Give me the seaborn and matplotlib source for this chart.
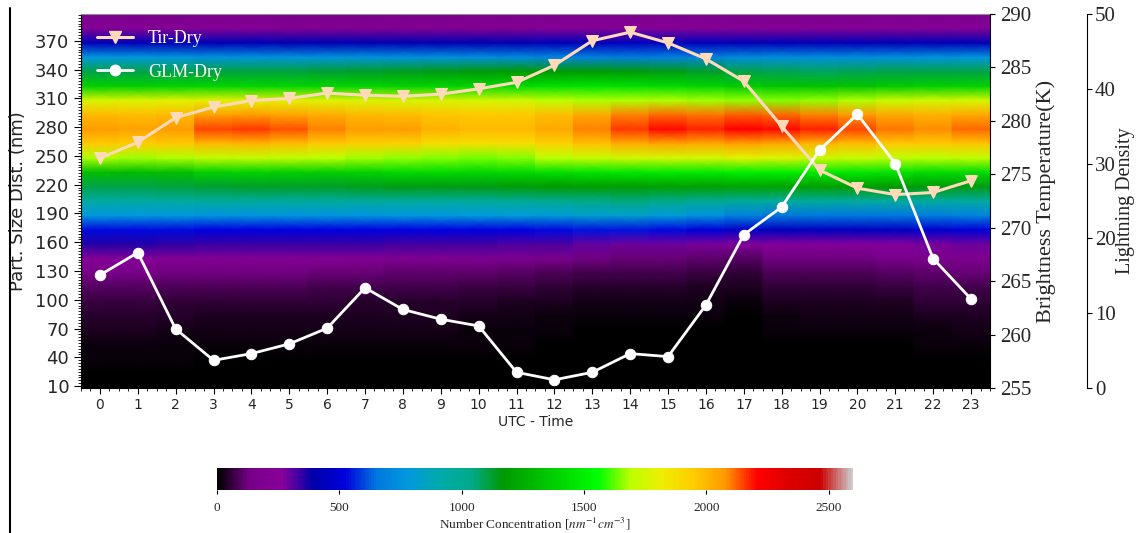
import numpy as np
import pandas as pd
import matplotlib
matplotlib.use("Agg")
import matplotlib.pyplot as plt
import seaborn as sns
from matplotlib.ticker import AutoMinorLocator
from matplotlib.lines import Line2D

# ---------------- data ----------------
hours = list(range(24))
size_bins = [8, 23, 38, 53, 68, 83, 98, 113, 128, 143, 158, 173, 188, 203,
             218, 233, 248, 263, 278, 293, 308, 323, 338, 353, 368, 383, 398]

# number concentration, one list per size bin (bottom -> top), 24 hourly values each
c008 = [0] * 24
c023 = [5, 5, 5, 4, 4, 4, 4, 4, 4, 4, 3, 3, 2, 2, 1, 1, 1, 1, 2, 2, 2, 2, 3, 3]
c038 = [12, 12, 12, 10, 10, 10, 10, 10, 9, 9, 8, 7, 5, 4, 3, 3, 3, 2, 4, 5, 5, 6, 8, 8]
c053 = [20, 20, 19, 16, 15, 15, 15, 15, 14, 14, 13, 11, 8, 6, 5, 5, 5, 4, 7, 8, 8, 9, 12, 13]
c068 = [32, 32, 30, 26, 25, 25, 24, 24, 22, 22, 20, 17, 13, 10, 9, 9, 8, 6, 12, 13, 13, 15, 20, 22]
c083 = [45, 45, 42, 38, 36, 36, 35, 34, 32, 32, 30, 26, 20, 16, 15, 15, 13, 10, 20, 22, 22, 25, 32, 34]
c098 = [65, 65, 60, 55, 55, 55, 52, 50, 45, 45, 42, 38, 32, 28, 26, 26, 22, 18, 34, 36, 36, 40, 52, 55]
c113 = [95, 95, 90, 85, 85, 85, 80, 80, 75, 75, 70, 65, 55, 50, 45, 45, 40, 35, 55, 60, 60, 65, 80, 80]
c128 = [140, 140, 130, 125, 125, 125, 120, 120, 110, 110, 105, 100, 90, 80, 75, 75, 65, 55, 90, 90, 90, 95, 110, 115]
c143 = [240, 240, 230, 220, 220, 220, 220, 210, 200, 200, 190, 180, 160, 130, 120, 120, 110, 100, 130, 130, 130, 140, 170, 180]
c158 = [360, 360, 350, 340, 340, 340, 340, 340, 330, 330, 330, 320, 320, 300, 290, 290, 280, 270, 265, 265, 265, 270, 280, 290]
c173 = [530, 530, 530, 520, 520, 520, 520, 520, 520, 520, 520, 520, 530, 540, 540, 530, 500, 460, 440, 440, 440, 450, 480, 500]
c188 = [780, 780, 780, 770, 770, 770, 770, 770, 780, 780, 790, 800, 800, 820, 820, 800, 760, 700, 660, 650, 650, 660, 680, 700]
c203 = [940, 940, 950, 960, 960, 960, 960, 960, 960, 960, 970, 980, 1000, 1040, 1050, 1030, 990, 970, 960, 960, 950, 950, 950, 950]
c218 = [1100, 1100, 1110, 1120, 1130, 1130, 1130, 1140, 1150, 1150, 1150, 1160, 1170, 1180, 1180, 1190, 1190, 1200, 1200, 1190, 1180, 1170, 1160, 1150]
c233 = [1300, 1300, 1320, 1380, 1390, 1380, 1380, 1390, 1420, 1420, 1410, 1420, 1440, 1460, 1470, 1480, 1480, 1500, 1500, 1480, 1470, 1450, 1430, 1430]
c248 = [1680, 1670, 1680, 1700, 1710, 1700, 1690, 1670, 1660, 1650, 1640, 1650, 1690, 1720, 1740, 1750, 1750, 1780, 1770, 1730, 1720, 1700, 1690, 1700]
c263 = [1950, 1940, 1950, 2000, 2010, 1990, 1960, 1930, 1920, 1880, 1870, 1880, 1920, 1980, 2030, 2050, 2040, 2060, 2040, 2010, 1990, 1960, 1950, 1970]
c278 = [2070, 2060, 2070, 2150, 2160, 2140, 2100, 2070, 2070, 2020, 2000, 2000, 2040, 2100, 2160, 2200, 2180, 2210, 2200, 2180, 2150, 2110, 2090, 2120]
c293 = [2000, 1990, 2000, 2060, 2070, 2050, 2030, 2000, 1990, 1970, 1960, 1960, 1990, 2040, 2100, 2120, 2110, 2130, 2120, 2100, 2080, 2040, 2020, 2040]
c308 = [1760, 1770, 1780, 1790, 1790, 1790, 1780, 1770, 1760, 1760, 1750, 1740, 1700, 1680, 1680, 1680, 1670, 1660, 1650, 1660, 1680, 1720, 1740, 1750]
c323 = [1380, 1380, 1390, 1400, 1400, 1400, 1400, 1400, 1390, 1390, 1400, 1420, 1440, 1450, 1440, 1420, 1400, 1360, 1340, 1330, 1340, 1360, 1380, 1390]
c338 = [1100, 1100, 1100, 1110, 1110, 1110, 1120, 1130, 1140, 1150, 1160, 1170, 1170, 1170, 1160, 1150, 1130, 1100, 1090, 1080, 1090, 1100, 1100, 1100]
c353 = [780, 780, 770, 760, 760, 760, 760, 760, 750, 750, 740, 730, 710, 690, 680, 690, 700, 730, 740, 740, 740, 750, 760, 770]
c368 = [420, 420, 420, 420, 420, 410, 410, 410, 410, 410, 410, 410, 420, 430, 440, 440, 430, 420, 420, 420, 420, 420, 420, 420]
c383 = [230, 230, 230, 225, 225, 220, 220, 220, 220, 220, 220, 220, 225, 230, 235, 235, 230, 230, 230, 230, 230, 230, 230, 230]
c398 = [170, 170, 165, 160, 155, 150, 145, 145, 150, 150, 155, 160, 165, 170, 170, 170, 165, 160, 160, 160, 160, 165, 165, 170]
conc_rows = [c008, c023, c038, c053, c068, c083, c098, c113, c128, c143, c158,
             c173, c188, c203, c218, c233, c248, c263, c278, c293, c308, c323,
             c338, c353, c368, c383, c398]

tir_dry = [276.5, 278.0, 280.3, 281.3, 281.9, 282.1, 282.6, 282.4, 282.3, 282.5,
           283.0, 283.6, 285.2, 287.5, 288.3, 287.3, 285.8, 283.7, 279.5, 275.4,
           273.7, 273.1, 273.3, 274.4]
glm_dry = [15.1, 18.1, 7.9, 3.7, 4.6, 5.9, 8.0, 13.4, 10.5, 9.2, 8.3, 2.1,
           1.1, 2.1, 4.6, 4.2, 11.1, 20.5, 24.2, 31.8, 36.6, 30.0, 17.3, 11.9]

size_ticks = [10, 40, 70, 100, 130, 160, 190, 220, 250, 280, 310, 340, 370]
temp_ticks = [255, 260, 265, 270, 275, 280, 285, 290]
ld_ticks = [0, 10, 20, 30, 40, 50]
cbar_ticks = [0, 500, 1000, 1500, 2000, 2500]

# ---------------- style ----------------
sns.set_style("ticks")
plt.rcParams["font.family"] = ["DejaVu Sans"]
plt.rcParams["mathtext.fontset"] = "stix"
SERIF = "Liberation Serif"
TIR_COLOR = "#FFDAB9"

fig = plt.figure(figsize=(11.37, 5.33), dpi=100)
ax = fig.add_axes([0.0712, 0.272, 0.7995, 0.7017])

# heatmap: constant within each hour, smooth across sizes
C = np.repeat(np.array(conc_rows, dtype=float), 2, axis=1)
hx = np.array(hours, dtype=float)
xg = np.column_stack([hx - 0.5, hx + 0.5]).ravel()
X, Y = np.meshgrid(xg, np.array(size_bins, dtype=float))
mesh = ax.pcolormesh(X, Y, C, shading="gouraud", cmap="nipy_spectral",
                     vmin=0, vmax=2600, rasterized=True)
ax.set_xlim(-0.5, 23.5)
ax.set_ylim(size_bins[0], size_bins[-1])
ax.set_xticks(hours)
ax.set_yticks(size_ticks)
ax.xaxis.set_minor_locator(AutoMinorLocator(4))
ax.yaxis.set_minor_locator(AutoMinorLocator(10))
ax.tick_params(axis="y", which="major", labelsize=13, length=5, color="black")
ax.tick_params(axis="y", which="minor", length=2.5, color="black")
ax.tick_params(axis="x", which="major", labelsize=10, length=4, color="black")
ax.tick_params(axis="x", which="minor", length=2, color="black")
ax.set_ylabel("Part. Size Dist. (nm)", fontsize=13, labelpad=6)
ax.set_xlabel("UTC - Time", fontsize=10, labelpad=2)
for s in ["left", "bottom"]:
    ax.spines[s].set_color("black")
ax.spines["top"].set_color("0.55")
ax.spines["right"].set_visible(False)

df = pd.DataFrame({"hour": hours, "tir": tir_dry, "glm": glm_dry})

# brightness temperature axis
ax_t = ax.twinx()
sns.lineplot(data=df, x="hour", y="tir", ax=ax_t, color=TIR_COLOR, marker="v",
             markersize=9, markeredgecolor=TIR_COLOR, linewidth=2.2, legend=False)
ax_t.set_ylim(255, 290)
ax_t.set_yticks(temp_ticks)
ax_t.tick_params(axis="y", labelsize=15, labelfontfamily=SERIF, color="black")
ax_t.set_ylabel("Brightness Temperature(K)", fontfamily=SERIF, fontsize=16)
for s in ["top", "left", "bottom"]:
    ax_t.spines[s].set_visible(False)
ax_t.spines["right"].set_color("black")

# lightning density axis
ax_l = ax.twinx()
ax_l.spines["right"].set_position(("axes", 1.107))
sns.lineplot(data=df, x="hour", y="glm", ax=ax_l, color="white", marker="o",
             markersize=7.5, markeredgecolor="white", linewidth=2.0, legend=False)
ax_l.set_ylim(0, 50)
ax_l.set_yticks(ld_ticks)
ax_l.tick_params(axis="y", labelsize=15, labelfontfamily=SERIF, color="black",
                 length=3.5, pad=2)
ax_l.set_ylabel("Lightning Density", fontfamily=SERIF, fontsize=14.5, labelpad=0)
for s in ["top", "left", "bottom"]:
    ax_l.spines[s].set_visible(False)
ax_l.spines["right"].set_color("black")
ax_l.set_xlim(-0.5, 23.5)

handles = [Line2D([], [], color=TIR_COLOR, marker="v", markersize=9, lw=2.2),
           Line2D([], [], color="white", marker="o", markersize=7.5, lw=2.0)]
ax_l.legend(handles, ["Tir-Dry", "GLM-Dry"], loc="upper left", frameon=False,
            labelcolor="white", prop={"family": SERIF, "size": 13},
            labelspacing=0.9)

# colorbar
cax = fig.add_axes([0.1909, 0.0807, 0.5594, 0.0413])
cb = fig.colorbar(mesh, cax=cax, orientation="horizontal", ticks=cbar_ticks)
cb.outline.set_visible(False)
cax.tick_params(labelsize=9.5, labelfontfamily=SERIF, length=3, pad=6, color="black")
cb.set_label(r"Number Concentration [$nm^{-1}cm^{-3}$]", fontfamily=SERIF,
             fontsize=9.5, labelpad=1)

# left frame line
fig.add_artist(Line2D([0.0088, 0.0088], [0.0, 0.985], transform=fig.transFigure,
                      color="black", lw=1.5))

fig.savefig("out.png", dpi=100)
